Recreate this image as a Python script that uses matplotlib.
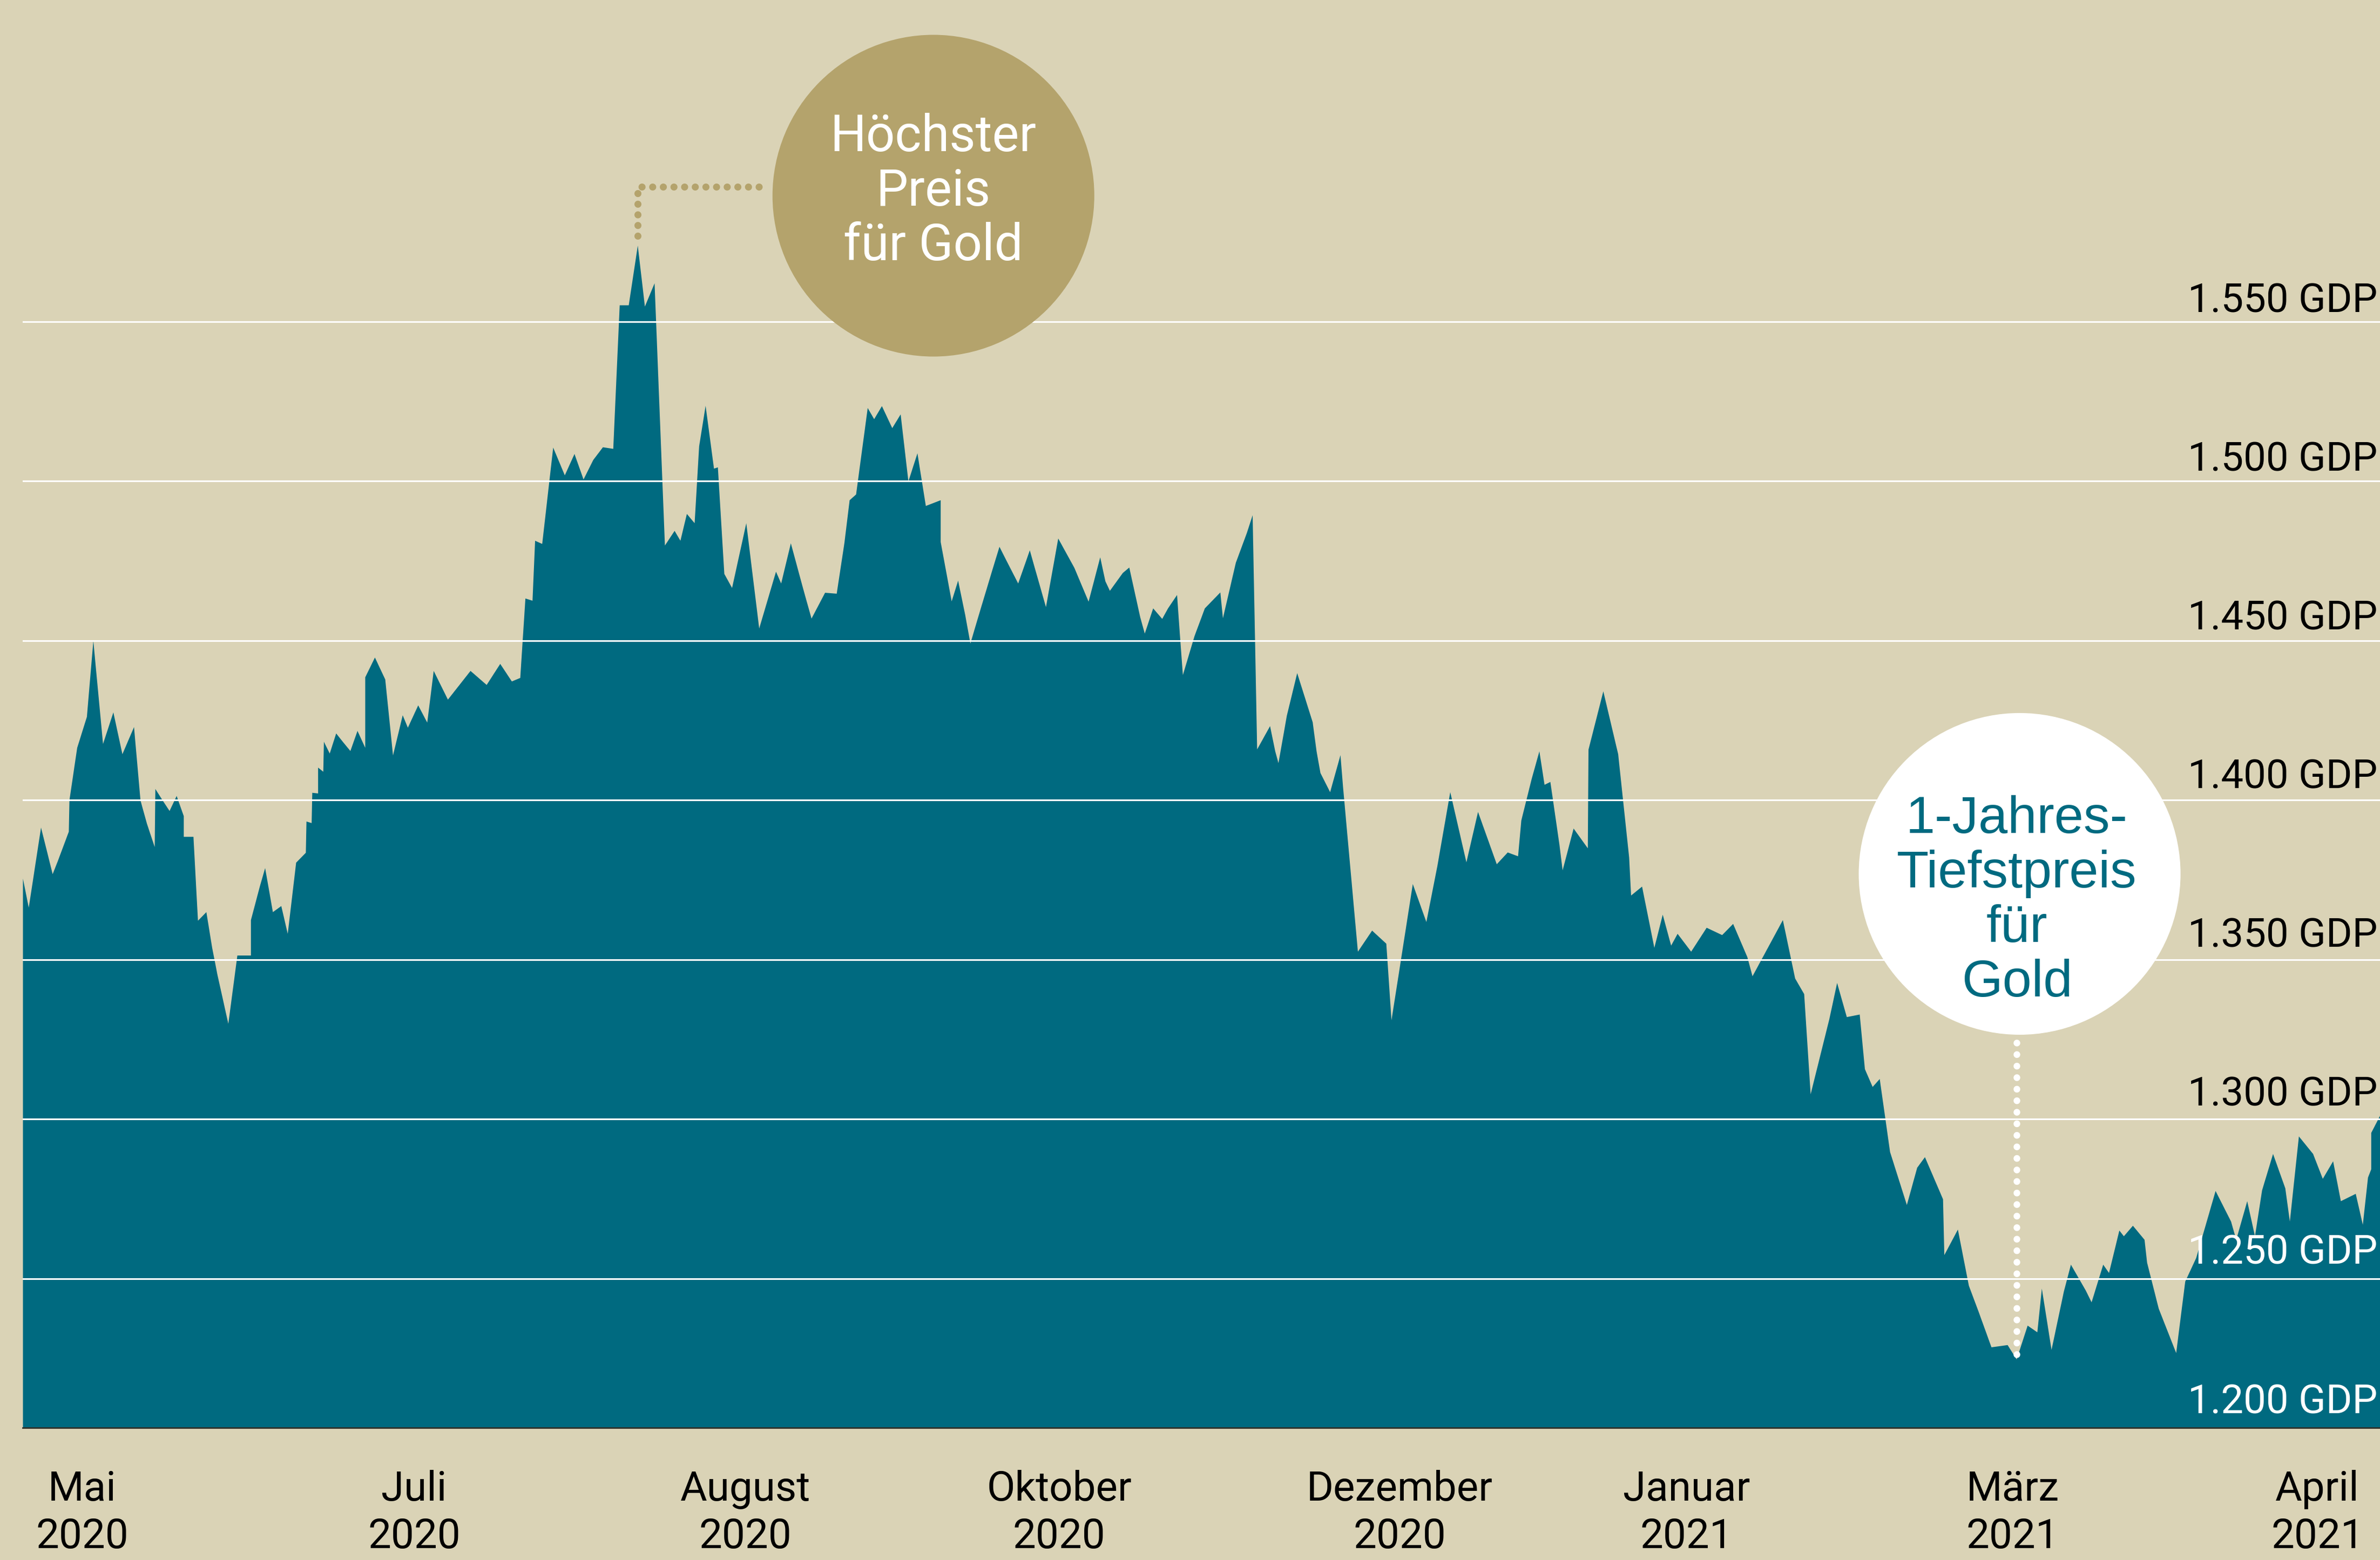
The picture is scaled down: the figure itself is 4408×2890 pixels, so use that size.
import matplotlib
matplotlib.use("Agg")
import matplotlib.pyplot as plt
from matplotlib.patches import Circle
from matplotlib.lines import Line2D
from matplotlib.transforms import IdentityTransform, ScaledTranslation, blended_transform_factory

# ---------------- data ----------------
# day offset from start of window (~late April 2020) and gold price in GBP ("GDP")
days = [0.0, 0.9, 2.8, 3.8, 4.6, 5.4, 7.1, 7.2, 8.4, 9.9, 10.9, 12.4, 14.0, 15.4, 17.2,
        18.2, 19.2, 20.4, 20.5, 21.6, 22.7, 23.8, 24.9, 24.9, 26.4, 27.1, 28.4, 29.3, 30.1,
        31.8, 33.2, 35.3, 35.3, 36.7, 37.5, 38.7, 40.0, 41.0, 42.3, 43.8, 43.9, 44.7, 44.8,
        45.7, 45.7, 46.5, 46.6, 47.5, 48.5, 49.6, 50.7, 51.8, 53.0, 53.0, 54.5, 56.1, 57.3,
        58.8, 59.6, 61.2, 62.6, 63.6, 65.8, 69.3, 71.8, 73.9, 75.7, 77.0, 77.8, 78.9, 79.3,
        80.4, 82.1, 83.9, 85.4, 86.8, 88.3, 89.8, 91.4, 92.4, 93.8, 95.2, 96.3, 97.8, 99.4,
        100.9, 101.8, 102.8, 104.0, 104.7, 105.7, 107.0, 107.6, 108.6, 109.8, 112.0, 114.0,
        116.6, 117.4, 118.9, 120.8, 122.1, 124.2, 126.0, 127.2, 128.0, 129.0, 130.8, 131.8,
        133.0, 134.6, 135.9, 137.1, 138.5, 139.8, 142.1, 142.1, 143.8, 144.8, 145.9, 146.7,
        148.0, 150.2, 151.2, 152.3, 154.1, 155.9, 156.4, 158.4, 160.3, 162.8, 165.0, 166.8,
        167.6, 168.3, 170.3, 171.3, 173.0, 173.7, 175.0, 176.4, 177.3, 178.7, 179.2, 179.6,
        181.4, 183.0, 185.4, 185.8, 187.8, 189.5, 190.4, 191.1, 193.1, 193.9, 194.4, 195.7,
        197.3, 198.3, 199.7, 200.3, 200.9, 202.4, 204.0, 204.4, 206.7, 208.9, 211.1, 211.9,
        212.8, 215.2, 217.3, 219.0, 221.0, 223.5, 225.3, 228.2, 229.9, 231.5, 232.0, 233.6,
        234.8, 235.6, 236.5, 237.9, 238.4, 240.1, 242.3, 242.4, 244.7, 247.0, 248.7, 249.0,
        250.7, 252.6, 253.9, 255.2, 256.2, 258.3, 260.7, 263.1, 264.8, 267.0, 267.8, 272.5,
        274.4, 275.8, 276.8, 279.7, 280.9, 282.4, 284.4, 285.2, 286.4, 287.5, 289.1, 291.7,
        293.3, 294.5, 297.3, 297.5, 299.6, 301.3, 302.8, 304.8, 307.3, 308.7, 310.4, 311.9,
        312.6, 314.1, 316.0, 317.1, 319.4, 320.3, 322.1, 323.0, 324.6, 325.3, 326.7, 328.5,
        328.9, 330.7, 333.4, 334.8, 336.5, 339.5, 341.9, 342.7, 344.4, 345.6, 346.7, 348.4,
        350.3, 351.0, 352.4, 354.6, 356.1, 357.7, 358.9, 361.2, 362.3, 363.1, 363.6, 363.6,
        365.0]
prices = [1375.5, 1366.4, 1391.5, 1383.4, 1376.9, 1381.0, 1390.2, 1400.1, 1416.5, 1426.2,
          1450.0, 1417.7, 1427.6, 1414.5, 1423.0, 1400.0, 1392.7, 1385.4, 1403.6, 1400.1,
          1396.7, 1401.4, 1395.1, 1388.6, 1388.6, 1362.3, 1365.0, 1353.8, 1345.5, 1330.0,
          1351.4, 1351.4, 1362.5, 1373.2, 1378.8, 1365.0, 1366.9, 1358.2, 1380.5, 1383.6,
          1393.4, 1392.9, 1402.4, 1402.2, 1410.3, 1409.0, 1418.4, 1414.7, 1421.0, 1418.2,
          1415.5, 1421.8, 1416.5, 1438.6, 1444.8, 1437.9, 1414.1, 1426.7, 1422.8, 1429.8,
          1424.4, 1440.6, 1431.6, 1440.6, 1436.2, 1442.8, 1437.3, 1438.4, 1463.3, 1462.6,
          1481.4, 1480.4, 1510.6, 1501.9, 1508.6, 1500.6, 1506.7, 1510.7, 1510.2, 1555.2,
          1555.2, 1573.9, 1554.8, 1562.1, 1479.9, 1484.5, 1481.4, 1489.8, 1486.9, 1511.0,
          1523.7, 1504.0, 1504.4, 1471.0, 1466.6, 1486.9, 1453.9, 1471.7, 1468.0, 1480.6,
          1466.4, 1457.0, 1465.1, 1464.8, 1480.8, 1494.1, 1495.9, 1523.0, 1519.5, 1523.6,
          1516.7, 1521.0, 1500.0, 1508.8, 1492.3, 1494.1, 1481.0, 1462.4, 1468.9, 1458.1,
          1449.2, 1458.1, 1472.9, 1479.5, 1475.1, 1468.0, 1478.4, 1474.8, 1460.6, 1482.1,
          1472.9, 1462.3, 1476.2, 1468.7, 1465.7, 1471.3, 1473.0, 1457.4, 1452.3, 1460.2,
          1456.9, 1460.2, 1464.4, 1450.2, 1439.3, 1451.5, 1460.2, 1465.2, 1457.1, 1474.5,
          1483.8, 1489.4, 1416.0, 1423.3, 1415.4, 1411.7, 1426.6, 1439.9, 1433.5, 1424.5,
          1415.4, 1408.6, 1402.6, 1414.2, 1404.2, 1352.6, 1359.2, 1355.1, 1331.1, 1342.7,
          1373.8, 1361.9, 1379.4, 1402.6, 1380.6, 1396.4, 1380.0, 1383.7, 1382.5, 1393.7,
          1406.7, 1415.4, 1404.9, 1405.8, 1386.2, 1378.1, 1391.2, 1385.0, 1415.9, 1434.2,
          1414.5, 1382.1, 1370.2, 1373.0, 1353.8, 1364.2, 1354.5, 1358.2, 1352.6, 1360.1,
          1357.8, 1361.3, 1350.9, 1344.9, 1362.5, 1344.2, 1339.3, 1307.9, 1331.5, 1342.8,
          1332.1, 1332.9, 1315.8, 1310.2, 1312.7, 1289.8, 1273.2, 1284.9, 1288.2, 1275.0,
          1257.5, 1265.5, 1247.9, 1239.8, 1228.6, 1229.3, 1224.8, 1235.4, 1233.3, 1247.0,
          1227.8, 1246.0, 1254.5, 1246.4, 1242.7, 1254.5, 1251.9, 1265.2, 1263.4, 1266.7,
          1262.3, 1255.1, 1240.7, 1226.8, 1249.2, 1256.6, 1277.6, 1268.0, 1262.3, 1274.4,
          1263.4, 1277.8, 1289.2, 1278.4, 1268.0, 1294.7, 1289.2, 1281.4, 1286.9, 1274.4,
          1276.7, 1267.0, 1281.8, 1284.4, 1295.8, 1301.3]

months = ["Mai", "Juli", "August", "Oktober", "Dezember", "Januar", "März", "April"]
years = ["2020", "2020", "2020", "2020", "2020", "2021", "2021", "2021"]
month_pos = [9.2, 60.6, 111.9, 160.5, 213.2, 257.6, 308.1, 355.3]

grid_levels = [1550, 1500, 1450, 1400, 1350, 1300, 1250]
tick_labels = ["1.550 GDP", "1.500 GDP", "1.450 GDP", "1.400 GDP", "1.350 GDP",
               "1.300 GDP", "1.250 GDP"]
bottom_label = "1.200 GDP"

high_text = ["Höchster", "Preis", "für Gold"]
low_text = ["1-Jahres-", "Tiefstpreis", "für", "Gold"]

# ---------------- style ----------------
W, H, DPI = 4408, 2890, 200
BG = "#DAD3B6"
TEAL = "#006A80"
GOLD = "#B4A36C"
FONT = ["Roboto", "DejaVu Sans"]
FONT2 = ["Liberation Sans", "DejaVu Sans"]
Y0, Y1 = 1203.3, 1650.8

fig = plt.figure(figsize=(W / DPI, H / DPI), dpi=DPI, facecolor=BG)
ax = fig.add_axes([42 / W, 245 / H, 4366 / W, 2645 / H])
ax.set_facecolor(BG)
ax.set_xlim(0, 365)
ax.set_ylim(Y0, Y1)
ax.axis("off")

ax.fill_between(days, prices, Y0, color=TEAL, lw=0, zorder=2)
for v in grid_levels:
    ax.axhline(v, color="white", lw=1.1, zorder=3)
ax.axhline(Y0, color="#2f2f28", lw=1.0, zorder=4, clip_on=False)

# y labels (right aligned at right edge)
ytrans = ax.get_yaxis_transform()
for v, lab in zip(grid_levels, tick_labels):
    off = 17 + (1550 - v) / 300 * 10
    col = "black" if v >= 1300 else "white"
    ax.text(0.9989, v, lab, transform=ytrans + ScaledTranslation(0, off / DPI, fig.dpi_scale_trans),
            ha="right", va="baseline", fontsize=26.8, color=col, family=FONT, zorder=6)
ax.text(0.9989, Y0, bottom_label,
        transform=ytrans + ScaledTranslation(0, 27 / DPI, fig.dpi_scale_trans),
        ha="right", va="baseline", fontsize=26.8, color="white", family=FONT, zorder=6)

# x labels
xtrans = blended_transform_factory(ax.transData, IdentityTransform())
for p, m, y in zip(month_pos, months, years):
    ax.text(p, 110, m, transform=xtrans, ha="center", va="baseline", fontsize=27.5,
            color="black", family=FONT, clip_on=False)
    ax.text(p, 22, y, transform=xtrans, ha="center", va="baseline", fontsize=27.5,
            color="black", family=FONT, clip_on=False)

# ---------------- annotations ----------------
fig.canvas.draw()
ident = IdentityTransform()
i_hi = max(range(len(prices)), key=lambda i: prices[i])
i_lo = min(range(len(prices)), key=lambda i: prices[i])
hx, hy = ax.transData.transform((days[i_hi], prices[i_hi]))
lx, ly = ax.transData.transform((days[i_lo], prices[i_lo]))
R = 298

# gold circle (high)
gcx, gcy = hx + 548, hy + 92
fig.add_artist(Circle((gcx, gcy), R, transform=ident, facecolor=GOLD, edgecolor="none", zorder=5))
fig.add_artist(Line2D([hx, hx, gcx - R - 8], [hy + 18, hy + 109, hy + 109], transform=ident,
                      color=GOLD, lw=4.7, linestyle=(0, (0.01, 1.5)),
                      dash_capstyle="round", zorder=5))
for k, t in enumerate(high_text):
    fig.text(gcx, gcy + 83 - 101 * k, t, transform=ident, ha="center", va="baseline",
             fontsize=33.8, color="white", family=FONT, zorder=6)

# white circle (low)
wcx, wcy = lx + 6, ly + 899
fig.add_artist(Circle((wcx, wcy), R, transform=ident, facecolor="white", edgecolor="none", zorder=5))
fig.add_artist(Line2D([lx, lx], [ly + 9, wcy - R - 3], transform=ident,
                      color="white", lw=4.5, linestyle=(0, (0.01, 1.7)),
                      dash_capstyle="round", zorder=5))
for k, t in enumerate(low_text):
    fig.text(wcx - 5, wcy + 76 - 101 * k, t, transform=ident, ha="center", va="baseline",
             fontsize=35.0, color=TEAL, family=FONT2, zorder=6)

fig.savefig("out.png", dpi=DPI, facecolor=BG)
